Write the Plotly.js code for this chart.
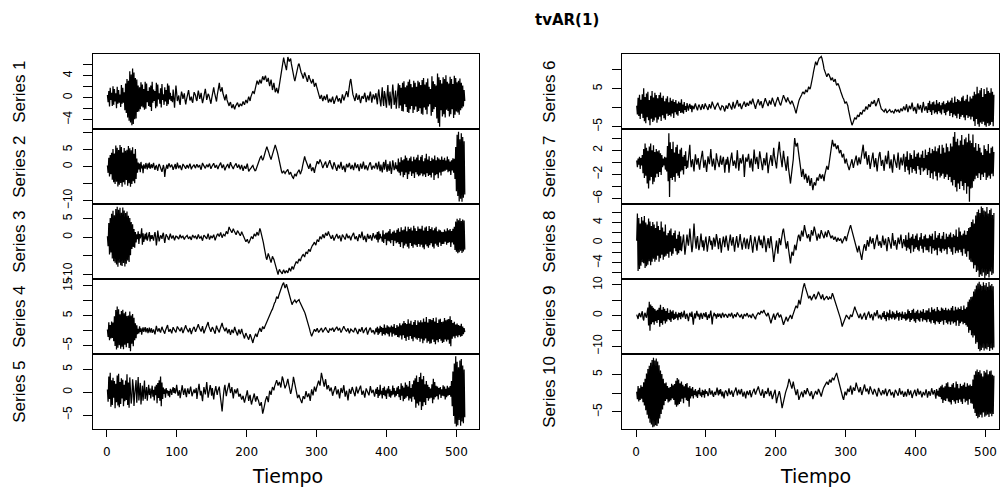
<!DOCTYPE html>
<html>
<head>
<meta charset="utf-8">
<script src="https://cdn.plot.ly/plotly-3.0.1.min.js"></script>
<style>html,body{margin:0;padding:0;background:#fff;}#chart{width:1005px;height:496px;}</style>
</head>
<body>
<div id="chart"></div>
<script>
// ---- data (one per time step 1..512) ----
const mainTitle = "tvAR(1)";
const xTitle = "Tiempo";
const seriesNames = ["Series 1","Series 2","Series 3","Series 4","Series 5","Series 6","Series 7","Series 8","Series 9","Series 10"];
const timeStart = 1;
const timeStep = 1;
const xTickVals = [0,100,200,300,400,500];

const s1 = [
0.5,-0.8,1.2,-1.6,1.8,-0.4,0.9,-1.5,2.1,-1.3,1.6,-0.7,0.8,-1.9,2.0,-1.1,1.4,-0.9,0.6,-1.7,2.3,-1.1,1.8,-0.9,1.0,-2.3,2.6,-2.8,3.4,-3.6,3.1,-4.2,
4.8,-4.5,4.2,-5.0,5.3,-4.8,4.6,-3.9,3.6,-3.8,3.3,-2.6,2.2,-2.5,1.9,-2.1,2.8,-1.6,2.4,-1.8,1.6,-2.2,2.9,-2.0,2.6,-0.8,1.2,-1.5,1.9,-1.7,2.2,-2.4,
2.9,-0.9,1.5,-0.6,1.2,-1.9,2.7,-1.6,2.4,-0.3,0.8,-1.1,1.7,-1.8,2.5,-0.4,0.6,-1.3,1.9,-0.7,1.4,-1.5,2.6,-1.2,2.2,-0.3,0.9,-0.6,0.3,-0.8,1.5,-0.9,
-1.8,0.4,2.2,0.9,-0.6,-0.1,0.4,-0.8,-1.3,0.2,1.1,0.6,-0.2,0.3,0.8,-0.5,-1.2,-0.4,0.3,0.9,1.4,0.5,-0.5,-0.2,0.2,-0.6,-0.9,0.1,1.0,0.7,0.4,-0.3,
-0.6,0.5,1.3,0.6,-0.2,0.3,0.9,-0.2,-1.0,-0.4,0.5,1.0,1.6,0.7,-0.4,0.1,0.7,0.5,0.1,-0.6,-1.1,-0.2,0.8,1.3,1.9,1.0,0.3,-0.3,-0.7,0.4,1.2,1.8,
2.7,1.6,1.1,1.5,1.9,0.9,0.2,-0.3,-0.5,0.2,0.6,-0.4,-0.9,-1.3,-1.5,-1.0,-0.8,-1.4,-1.9,-1.5,-1.2,-1.8,-2.1,-1.6,-1.4,-1.0,-0.9,-1.3,-1.7,-1.4,-1.1,-1.3,
-1.5,-1.1,-0.7,-1.0,-1.3,-0.8,-0.4,-0.7,-1.0,-0.3,0.2,-0.2,-0.6,0.1,0.5,0.9,1.2,0.9,0.8,1.4,1.9,2.6,3.1,2.7,2.4,2.9,3.3,2.8,2.6,3.3,3.9,3.5,
3.2,3.7,4.0,3.4,2.9,3.2,3.6,2.8,2.1,2.7,3.3,2.4,1.4,2.0,2.7,1.9,1.0,1.3,1.8,1.2,0.8,1.6,2.5,3.3,4.2,5.1,5.9,6.8,7.3,6.6,6.1,5.5,
5.0,6.2,7.4,7.0,6.6,6.9,7.1,6.2,5.3,4.6,4.1,3.5,3.0,3.7,4.4,5.1,5.8,6.0,6.2,5.5,4.9,4.6,4.3,3.9,3.5,4.0,4.6,4.2,3.8,3.3,2.9,3.5,
4.1,3.6,3.2,2.8,2.6,3.0,3.4,2.7,2.0,2.4,2.7,2.1,1.6,1.2,0.8,0.3,-0.2,0.2,0.5,-0.1,-0.6,-0.1,0.3,-0.1,-0.4,0.2,0.6,-0.2,-0.9,-0.5,-0.2,-0.6,
-0.8,-0.2,0.2,-0.5,-1.1,-0.7,-0.3,0.1,0.4,-0.2,-0.7,-0.3,-0.1,-0.6,-1.0,-0.1,0.6,0.1,-0.5,-0.1,0.3,0.8,1.2,0.6,0.1,1.2,2.4,3.0,3.4,2.3,1.3,0.6,
0.2,-0.3,-0.6,0.2,0.8,0.1,-0.4,0.0,0.5,-0.4,-1.0,-0.3,0.3,0.1,-0.2,0.4,0.9,0.1,-0.8,-0.2,0.4,0.0,-0.5,0.5,1.1,0.2,-0.9,-0.1,0.6,0.2,-0.3,0.4,
0.8,-0.4,-1.2,0.6,1.5,0.2,-0.7,-1.6,0.4,1.9,-0.5,-1.5,1.2,0.6,-0.9,-1.8,0.7,2.3,-0.3,-1.4,1.1,-0.6,-2.0,0.4,2.4,0.8,-1.3,-0.5,1.3,-2.0,0.2,1.6,
2.6,-1.9,2.3,-1.4,1.8,-2.4,2.7,-2.5,3.0,-1.2,1.9,-1.7,2.2,-2.6,2.9,-2.8,3.3,-2.1,2.5,-1.5,1.9,-2.8,3.1,-2.2,2.7,-1.6,2.0,-2.6,3.1,-2.4,2.8,-1.9,
2.3,-2.9,3.2,-3.1,3.6,-1.8,2.4,-2.2,2.8,-3.0,3.5,-1.6,2.0,-1.2,1.6,-3.3,3.9,-2.6,3.0,-2.1,2.5,-1.7,2.2,-3.8,4.4,-4.6,3.7,-5.3,3.2,-2.3,2.6,-3.4,
3.7,-3.0,3.4,-3.6,4.1,-2.2,2.9,-2.4,2.6,-3.4,3.8,-3.0,3.4,-2.1,2.5,-3.7,4.0,-3.1,3.6,-2.5,2.8,-2.7,3.1,-3.1,3.5,-2.3,2.7,-1.9,2.2,-1.6,1.4,-0.6];

const s2 = [
0.4,-1.8,2.6,-2.9,3.4,-2.2,4.1,-3.8,5.2,-4.6,3.9,-5.1,6.2,-4.4,5.6,-5.8,4.9,-5.3,6.4,-4.8,5.8,-5.9,4.2,-4.6,5.5,-5.2,4.7,-3.9,5.0,-5.6,6.1,-4.9,
5.4,-5.9,4.8,-5.1,5.7,-4.3,3.8,-4.9,5.2,-3.6,2.4,-1.8,1.2,-0.8,0.9,-1.6,1.4,-0.5,0.3,-1.9,0.7,0.2,-0.6,1.1,0.4,-0.8,0.9,-0.3,1.2,-0.6,0.1,0.7,
-0.4,0.5,1.1,-0.2,-0.9,0.1,0.3,-0.5,-1.2,0.2,0.8,0.3,-0.3,-0.9,-1.5,-0.6,0.5,-0.4,-3.0,-1.1,0.2,0.6,-0.6,0.1,1.0,0.4,-0.2,0.3,0.6,-0.1,-0.9,-0.3,
0.3,0.8,-0.7,-0.2,1.2,0.4,-0.5,0.1,0.4,-0.3,-1.0,-0.2,0.8,0.5,0.1,-0.4,-0.6,0.2,0.5,-0.1,-0.3,0.4,0.9,0.1,-0.8,-0.2,0.2,0.6,0.6,-0.1,-0.4,0.3,
0.7,0.2,-0.2,0.3,0.4,-0.4,-0.9,0.2,1.1,0.6,0.3,-0.2,-0.5,0.1,0.6,0.2,-0.1,0.5,0.9,0.1,-0.6,-0.1,0.2,0.7,1.0,0.3,-0.3,0.2,0.5,-0.2,-0.7,0.0,
0.3,0.8,1.2,0.3,-0.4,0.2,0.6,-0.3,-1.1,-0.4,0.2,0.6,0.8,0.1,-0.5,0.5,1.3,0.6,0.1,-0.4,-0.7,0.0,0.4,0.8,1.0,0.2,-0.3,0.2,0.6,-0.2,-0.8,0.0,
0.5,-0.4,-1.2,-0.4,0.2,-0.3,-0.6,0.2,0.9,-0.3,-1.4,-1.0,-0.8,-0.4,-0.2,0.2,0.4,-0.3,-0.9,-1.2,-1.1,-0.4,0.3,0.9,1.6,2.1,2.4,2.9,3.1,2.4,1.9,2.3,
2.8,3.8,4.6,5.4,5.9,5.2,4.8,4.0,3.2,2.5,2.1,2.9,3.6,4.4,5.1,5.9,6.4,5.7,5.2,4.3,3.4,2.2,1.0,0.1,-0.8,-1.4,-1.9,-1.5,-1.2,-1.7,-2.0,-1.6,
-1.4,-1.0,-0.8,-1.6,-2.3,-1.9,-1.6,-2.3,-2.9,-3.2,-3.4,-2.6,-2.1,-2.5,-2.8,-2.0,-1.5,-1.1,-0.9,-1.6,-2.2,-1.5,-1.0,0.2,1.4,2.3,3.0,2.2,1.6,1.0,0.4,-0.2,
-0.6,0.2,0.9,-0.3,-1.3,-0.6,-0.2,-1.0,-1.8,-0.6,0.5,1.1,1.6,1.2,0.8,1.5,2.1,1.6,1.2,0.3,-0.4,0.2,0.7,1.1,1.5,0.5,-0.3,0.3,0.8,1.4,1.9,1.0,
0.4,-0.3,-0.8,0.3,1.3,0.7,0.2,-0.6,-1.2,-0.2,0.6,0.0,-0.5,0.5,1.4,0.2,-0.9,-0.2,0.3,-0.7,-1.6,-0.3,0.8,0.2,-0.2,0.5,1.1,0.1,-0.7,-0.1,0.5,-0.3,
-1.0,0.2,1.2,0.3,-0.4,0.2,0.7,-0.4,-1.3,-0.1,0.9,0.1,-0.6,0.5,1.5,0.3,-0.8,-0.1,0.4,-0.4,-1.1,-0.2,0.6,1.0,1.3,0.1,-0.9,-0.2,0.3,-0.1,-0.5,0.4,
1.1,0.2,-0.8,0.4,1.5,-0.3,-1.3,0.6,-0.2,-1.7,0.4,1.4,-0.9,0.3,2.0,-0.5,-1.5,0.8,-0.4,-1.2,1.6,0.2,-2.1,-0.4,1.9,0.6,-1.0,-0.3,1.3,-0.7,0.4,-1.4,
2.4,-1.8,1.3,-2.6,2.8,-1.5,1.9,-3.1,2.2,-2.4,3.3,-1.7,2.6,-3.6,1.8,-2.2,2.5,-1.4,3.0,-2.7,1.6,-2.0,2.9,-3.3,2.1,-1.6,2.7,-2.3,3.5,-2.8,1.9,-2.5,
2.9,-2.0,3.4,-2.8,1.6,-2.3,2.5,-3.0,3.8,-1.9,2.1,-2.7,3.1,-2.4,1.7,-3.2,2.6,-1.8,2.2,-3.9,3.3,-2.5,1.9,-2.2,2.8,-3.4,2.4,-1.7,2.0,-2.6,3.0,-1.5,
2.0,-1.4,2.6,-1.2,1.8,-0.9,3.0,-1.6,2.2,-1.3,1.5,-2.4,1.9,-1.1,2.5,-1.8,2.3,-3.6,5.8,-7.2,9.4,-8.6,10.3,-10.2,8.1,-9.4,9.8,-10.3,8.7,-9.1,7.5,-8.2];

const s3 = [
0.3,-2.4,3.8,-4.6,5.2,-4.1,6.3,-5.7,7.1,-6.4,5.9,-6.8,7.6,-7.3,8.2,-7.9,7.4,-6.8,7.9,-7.5,6.6,-7.7,8.0,-6.9,7.2,-7.8,6.5,-7.1,6.9,-6.2,5.8,-6.6,
5.2,-4.8,4.1,-3.1,3.5,-2.6,2.2,-2.8,1.4,-1.4,0.8,-0.5,1.6,-1.8,0.9,-0.3,0.5,2.4,-2.0,1.1,-1.2,0.4,0.9,-0.6,1.3,-0.9,-0.2,0.7,1.4,-1.1,0.5,-0.4,
0.6,-0.2,-0.9,0.5,1.4,0.1,-2.2,-0.6,1.8,0.4,-1.1,-0.3,0.5,0.2,-0.4,0.7,1.2,-0.3,-1.5,-0.2,0.8,0.4,0.2,-0.5,-0.6,0.3,1.0,0.2,-0.3,0.1,0.5,-0.2,
-0.8,-0.2,0.4,0.1,0.1,-0.3,-0.5,0.2,0.7,0.1,-0.2,0.2,0.3,-0.2,-0.6,-0.1,0.1,0.4,0.5,0.0,-0.4,-0.1,0.2,-0.3,-0.7,0.1,0.6,0.2,-0.1,0.2,0.3,-0.2,
-0.5,0.2,0.8,0.2,-0.3,0.0,0.2,-0.4,-0.9,-0.1,0.6,0.4,0.1,-0.2,-0.4,0.3,1.0,0.2,-0.6,-0.1,0.3,0.1,-0.2,0.3,0.7,-0.1,-0.8,-0.2,0.4,0.7,0.9,0.4,
0.2,0.8,1.3,0.5,-0.1,0.4,0.8,0.6,0.4,1.0,1.6,1.2,0.9,1.9,2.8,2.3,1.9,1.5,1.2,1.8,2.3,1.8,1.4,1.0,0.7,1.2,1.8,1.5,1.1,0.7,0.4,0.9,
1.5,1.0,0.6,0.1,-0.3,-0.8,-1.2,-0.9,-0.5,-1.1,-1.6,-1.2,-0.8,-0.3,0.2,-0.1,-0.4,0.3,0.9,0.6,0.3,0.9,1.4,0.8,0.5,1.5,2.4,1.8,1.1,0.4,-0.3,-1.4,
-2.5,-3.8,-4.8,-5.5,-6.0,-5.1,-4.3,-4.9,-5.5,-6.2,-6.8,-5.9,-5.1,-5.6,-5.9,-6.6,-7.2,-7.9,-8.4,-9.3,-10.0,-9.1,-8.6,-9.0,-9.3,-9.6,-9.8,-9.1,-8.7,-9.2,-9.6,-9.2,
-8.9,-9.3,-9.5,-8.8,-8.2,-8.7,-9.1,-8.4,-7.8,-8.2,-8.6,-7.9,-7.2,-6.8,-6.5,-6.8,-7.0,-6.3,-5.8,-6.1,-6.4,-5.6,-5.0,-4.8,-4.6,-5.0,-5.3,-4.5,-3.9,-4.2,-4.4,-3.7,
-3.2,-3.6,-3.8,-3.1,-2.5,-2.2,-2.0,-1.6,-1.3,-1.8,-2.1,-1.3,-0.6,-0.9,-1.2,-0.4,0.2,-0.2,-0.5,0.2,0.8,0.3,-0.2,0.5,1.2,0.8,0.4,1.0,1.6,0.9,0.3,-0.1,
-0.4,0.1,0.6,-0.2,-0.9,-0.3,0.2,0.6,0.9,0.2,-0.3,0.1,0.5,-0.3,-1.1,-0.2,0.7,0.4,0.1,-0.3,-0.6,0.2,1.0,0.4,-0.2,0.1,0.4,-0.2,-0.8,0.0,0.6,0.9,
1.2,0.3,-0.5,-0.1,0.3,-0.4,-1.0,-0.1,0.8,0.3,-0.2,0.6,1.5,0.4,-0.7,-0.2,0.4,-0.5,-1.3,-0.2,0.9,0.2,-0.4,0.1,0.6,-0.2,-0.9,0.1,1.1,0.4,-0.3,0.2,
0.7,-0.6,1.4,-1.4,1.6,-0.6,0.9,-0.2,0.2,-1.2,1.9,-1.5,0.8,-0.4,1.2,-2.1,1.3,-0.9,1.6,-1.1,2.2,-1.6,1.0,-0.7,1.5,-2.3,1.8,-0.9,1.2,-1.6,2.0,-1.3,
2.4,-1.8,1.5,-2.6,2.7,-1.3,1.9,-2.9,2.1,-2.2,2.9,-1.7,1.6,-2.5,2.8,-3.0,2.2,-1.5,2.6,-2.3,1.8,-2.8,3.1,-1.9,2.4,-2.1,1.7,-2.6,2.9,-1.8,2.3,-2.5,
2.3,-2.0,3.1,-2.7,1.8,-3.2,2.6,-1.9,2.9,-2.4,1.7,-2.8,3.0,-2.1,2.2,-1.6,2.7,-2.5,1.9,-3.0,2.4,-1.7,2.8,-2.2,1.6,-2.6,2.1,-1.4,1.9,-2.3,1.5,-1.8,
1.4,-1.8,2.1,-1.2,1.6,-2.0,2.4,-1.5,1.9,-1.3,2.2,-2.6,1.7,-1.4,2.3,-1.9,2.8,-3.4,4.2,-3.9,5.0,-4.3,4.6,-4.0,5.1,-3.6,4.4,-4.2,4.8,-3.8,4.5,-3.3];

const s4 = [
0.4,-2.1,2.8,-3.2,1.9,-2.6,3.1,-2.4,2.7,-3.5,4.8,-5.1,6.9,-6.3,8.1,-5.7,7.2,-4.9,5.5,-6.0,6.6,-5.4,7.0,-6.2,5.8,-4.7,6.3,-5.5,4.9,-4.2,5.1,-5.8,
6.4,-6.9,5.1,-4.4,5.6,-5.2,4.3,-3.2,2.5,-2.5,1.8,-1.2,0.6,-0.9,1.5,-0.4,0.8,-1.3,0.3,1.1,-0.4,0.6,1.2,-0.5,0.2,0.9,-0.8,0.4,1.0,-0.6,0.3,0.8,
-0.7,0.1,0.4,-0.5,-1.2,0.3,1.6,0.5,-0.3,0.4,0.8,-0.2,-0.6,0.4,1.3,0.6,0.2,-0.5,-1.0,0.1,0.7,1.4,1.9,0.5,-0.4,0.2,0.5,-0.3,-0.9,0.3,1.2,0.6,
0.3,-0.3,-0.6,0.5,1.4,1.0,0.7,0.2,-0.2,0.5,1.1,0.1,-0.8,-0.1,0.5,1.2,1.8,0.9,0.2,-0.3,-0.5,0.3,0.9,-0.2,-1.1,-0.2,0.6,1.0,1.3,0.4,-0.4,0.2,
0.8,1.6,2.2,1.2,0.5,0.0,-0.3,0.6,1.5,0.2,-0.9,-0.2,0.4,1.2,1.9,2.4,2.9,1.5,0.6,0.1,-0.4,0.5,1.2,0.7,0.3,-0.4,-1.0,0.4,1.7,0.9,0.2,-0.3,
-0.6,0.5,1.4,2.1,2.6,1.5,0.8,0.2,-0.2,0.4,1.0,0.0,-0.9,-0.1,0.5,-0.5,-1.4,-0.4,0.3,-0.3,-0.8,0.3,1.3,0.3,-0.5,-1.1,-1.6,-0.5,0.4,-0.4,-1.1,-0.2,
0.6,-0.5,-1.5,-2.1,-2.6,-1.6,-0.8,-1.4,-1.9,-2.5,-3.0,-2.1,-1.2,-1.8,-2.4,-3.3,-4.1,-3.0,-2.2,-1.5,-1.0,-1.6,-2.1,-1.1,-0.3,0.4,0.9,0.2,-0.4,0.5,1.4,0.9,
0.6,1.3,1.9,2.4,2.8,3.5,4.1,4.7,5.3,5.9,6.4,6.8,7.2,8.1,8.8,9.3,9.6,10.6,11.4,11.0,10.7,11.8,12.6,13.3,14.0,14.7,15.2,15.7,16.1,15.1,14.3,14.9,
15.6,14.7,13.8,12.9,12.1,11.2,10.4,9.5,8.7,9.3,9.8,10.1,10.3,9.8,9.4,9.8,10.1,10.3,10.4,9.7,9.2,8.9,8.6,8.0,7.3,6.8,6.2,5.5,4.8,4.0,3.1,2.3,
1.6,0.6,-0.4,-1.2,-1.9,-1.3,-0.8,-0.1,0.5,0.1,-0.3,0.3,0.8,0.1,-0.6,-0.2,0.2,0.6,0.9,0.2,-0.5,-0.1,0.3,0.7,1.1,0.5,0.0,-0.4,-0.7,0.0,0.6,0.4,
0.2,0.6,1.0,0.3,-0.4,0.2,0.7,1.0,1.3,0.7,0.1,0.5,0.9,0.1,-0.6,-0.1,0.4,1.0,1.5,0.9,0.3,0.0,-0.2,0.3,0.8,-0.1,-0.9,-0.2,0.5,0.3,0.1,-0.2,
-0.5,0.2,0.9,0.6,0.2,-0.5,-1.1,-0.3,0.6,0.1,-0.3,0.5,1.2,0.2,-0.8,-0.2,0.4,0.7,0.9,-0.2,-1.3,-0.5,0.3,0.7,1.0,0.2,-0.6,-0.2,0.2,-0.5,-1.2,-0.2,
0.8,-0.5,1.3,-1.4,0.7,-0.9,1.6,-0.4,1.2,-1.7,0.9,-1.1,2.1,-1.5,1.0,-0.8,1.8,-1.2,1.4,-1.9,1.1,-0.6,1.7,-2.0,1.3,-1.0,2.2,-1.6,0.9,-1.4,1.9,-2.1,
1.4,-2.3,2.5,-1.6,1.8,-2.9,2.4,-1.5,3.2,-2.4,2.6,-3.4,2.2,-2.0,3.8,-3.1,2.4,-1.8,3.3,-2.7,2.0,-3.5,2.9,-2.2,3.6,-2.6,1.9,-3.0,3.4,-2.4,2.8,-3.7,
3.5,-2.7,2.8,-4.2,4.1,-3.3,3.0,-2.6,4.6,-4.0,2.7,-3.5,3.9,-4.4,3.8,-4.2,3.6,-2.9,4.2,-3.8,3.1,-4.5,4.4,-3.2,2.6,-3.9,3.7,-2.8,4.0,-3.4,2.9,-4.1,
3.1,-3.8,4.2,-2.9,3.5,-3.6,3.7,-3.0,3.9,-4.4,4.8,-5.2,3.6,-2.7,2.6,-1.9,3.0,-2.5,2.1,-1.7,2.4,-2.2,1.9,-1.5,1.6,-2.0,2.3,-1.8,1.4,-1.2,0.9,-0.5];

const s5 = [
0.6,-2.1,3.4,-1.5,4.2,-3.2,2.6,-2.8,3.1,-1.2,2.4,-3.5,1.8,-2.2,3.6,-2.9,4.0,-3.3,2.2,-2.6,3.0,-1.4,2.7,-3.1,1.6,-2.0,2.5,-1.7,3.9,-2.8,2.1,-3.4,
3.2,0.8,-2.5,-1.0,2.8,1.2,-3.0,-0.6,1.9,2.6,-2.3,-0.4,3.3,-1.8,0.6,2.0,-2.7,-0.5,1.4,-1.9,0.3,2.5,-1.5,0.6,1.1,-1.9,-0.2,1.6,-0.6,0.8,-1.4,0.4,
1.4,-1.0,0.5,-1.8,1.2,-0.7,1.6,-2.4,2.0,-1.3,2.6,-1.9,3.4,-3.1,2.1,-1.5,1.0,-0.4,0.6,-1.2,0.9,-0.3,0.4,-0.8,0.2,-1.1,0.7,0.3,-0.6,0.5,1.1,-0.2,
0.9,-0.3,0.2,1.6,0.4,-0.8,-0.2,0.4,-1.3,-0.4,0.7,1.5,0.3,-0.6,0.2,0.8,-0.4,-1.1,0.2,0.8,-0.1,-0.4,0.5,1.2,0.2,-0.9,-0.3,0.3,0.6,-0.2,0.1,0.9,
-1.5,-0.2,0.6,1.8,0.4,-0.7,0.3,-0.6,-2.0,-0.3,1.1,0.2,-0.5,0.7,2.2,0.5,-1.2,-0.3,0.4,1.5,0.6,-0.8,0.9,-0.4,-1.6,-0.2,0.5,1.3,0.2,-0.6,0.3,1.0,
1.2,-0.4,-1.3,-2.8,-4.2,-1.6,-0.5,0.8,1.6,0.2,-0.9,0.1,0.7,1.4,2.0,0.8,-0.2,0.5,1.1,-0.3,-1.4,-0.2,0.6,0.1,-0.3,0.4,0.8,-0.2,-1.0,-0.6,-0.4,-1.1,
-1.6,-1.2,-0.8,-1.7,-2.3,-1.6,-1.2,-0.4,0.4,-0.8,-1.9,-1.1,-0.6,-1.8,-2.7,-2.0,-1.5,-0.8,-0.3,-1.3,-2.1,-1.4,-0.9,-1.5,-1.8,-2.5,-3.0,-2.6,-2.2,-3.4,-4.7,-4.1,
-3.6,-2.6,-1.8,-1.2,-0.9,-1.6,-2.2,-0.9,0.3,-0.2,-0.6,0.3,1.1,0.8,0.4,1.2,1.9,2.3,2.6,2.0,1.4,1.9,2.2,1.6,1.0,2.2,3.4,2.9,2.3,1.5,0.8,1.3,
1.6,2.3,2.9,1.9,1.0,0.3,-0.4,0.2,0.8,2.0,3.3,2.4,1.5,0.6,-0.2,-0.8,-1.3,-0.9,-0.6,-1.2,-1.7,-2.1,-2.4,-1.6,-0.9,-1.2,-1.5,-0.6,0.2,-0.5,-1.1,-0.7,
-0.3,-1.1,-1.9,-0.6,0.6,-0.1,-0.7,0.3,1.2,0.6,0.1,0.9,1.6,2.1,2.5,1.9,1.4,2.8,4.2,3.4,2.6,1.9,1.2,2.0,2.8,1.7,0.6,1.1,1.5,0.8,0.2,0.6,
1.0,0.1,-0.8,-0.2,0.4,0.9,1.3,0.4,-0.5,0.1,0.6,-0.4,-1.4,-0.2,0.9,0.3,-0.2,0.7,1.5,0.2,-1.0,-0.3,0.3,-0.8,-1.8,-0.5,0.7,0.1,-0.4,0.4,1.1,0.6,
0.2,-0.4,-0.9,0.2,1.2,0.4,-0.3,0.2,0.6,1.0,1.4,0.4,-0.6,-0.1,0.3,-0.5,-1.2,-0.2,0.8,0.4,0.1,-0.3,-0.7,0.3,1.3,0.5,-0.2,0.2,0.5,-0.3,-1.0,-0.1,
0.7,-0.4,1.1,-1.3,0.5,-0.8,1.6,-0.5,0.3,-1.4,0.9,-0.6,1.2,-0.9,0.4,-1.5,0.8,-0.3,1.3,-1.0,0.6,-1.2,0.2,-0.7,1.4,-0.5,0.9,-1.1,0.3,-0.8,1.0,-0.4,
1.3,-1.1,0.6,-1.7,1.9,-0.8,1.4,-2.0,1.0,-1.5,2.1,-1.2,1.6,-0.9,1.2,-1.8,2.4,-1.4,0.9,-2.1,1.7,-1.0,2.5,-1.6,3.0,-3.4,3.6,-2.5,2.2,-2.9,3.3,-2.1,
4.2,-3.9,2.8,-3.1,3.5,-2.2,1.7,-2.8,2.4,-1.3,1.6,-1.9,1.1,-1.4,0.8,-1.2,1.7,-2.4,2.9,-1.6,2.2,-1.1,1.4,-0.9,1.2,-1.6,0.9,-0.5,1.1,-1.3,0.6,-0.8,
1.5,-0.9,1.2,-1.6,0.7,-1.1,1.4,-0.8,1.0,-0.6,1.3,-1.0,2.4,-3.1,4.5,-5.2,6.2,-6.9,7.8,-7.5,6.6,-7.2,5.4,-6.1,6.9,-7.3,7.2,-6.4,5.8,-6.8,4.9,-5.5];

const s6 = [
0.5,-1.8,2.6,-2.2,3.4,-3.0,2.1,-1.6,3.5,-2.7,5.1,-3.6,2.8,-4.1,3.7,-2.5,4.2,-3.3,2.0,-4.6,3.1,-2.9,4.4,-3.8,2.7,-3.4,3.9,-2.6,3.3,-4.0,2.5,-3.1,
3.3,-2.4,4.0,-3.5,2.6,-2.0,3.1,-2.8,1.7,-3.2,2.4,-1.6,3.0,-2.2,1.4,-1.9,2.6,-2.3,1.8,-1.5,2.2,-2.7,1.5,-1.2,2.0,-1.8,1.1,-2.1,1.6,-0.9,1.3,-1.4,
2.2,-1.3,0.8,-1.6,1.5,-0.6,0.4,-1.1,1.2,0.2,-0.8,0.5,1.0,-0.3,0.6,-1.2,0.5,0.1,-0.4,0.6,1.1,0.3,-0.3,-0.7,0.2,0.8,0.4,-0.2,-0.6,0.3,0.9,0.2,
-0.4,0.3,1.1,0.5,0.3,-0.2,-0.6,0.2,0.9,0.3,-0.2,0.6,1.6,1.0,0.4,-0.1,-0.5,0.2,0.7,1.1,1.3,0.6,0.1,-0.3,-0.7,0.0,0.5,0.4,0.2,-0.5,-1.0,-0.2,
0.6,0.1,-0.3,0.5,1.2,0.8,0.4,-0.2,-0.5,0.6,1.5,0.5,-0.2,0.3,0.8,1.5,2.0,1.0,0.3,0.8,1.1,0.2,-0.4,0.3,0.9,1.3,1.6,0.8,0.2,0.9,1.3,0.8,
0.5,1.2,1.8,1.3,0.9,1.7,2.4,1.6,1.1,0.4,-0.3,0.6,1.4,1.9,2.2,1.3,0.6,1.3,1.7,0.8,-0.1,0.5,1.0,1.8,2.5,1.8,1.2,0.7,0.4,1.2,1.9,1.3,
0.8,1.8,2.6,2.0,1.5,0.8,0.3,1.2,1.9,2.5,2.8,2.0,1.2,0.9,0.6,1.4,2.1,2.8,3.3,2.8,2.4,1.8,1.4,2.1,2.7,2.1,1.6,1.2,0.9,1.4,1.8,1.4,
1.0,0.4,-0.2,-0.9,-1.5,-0.6,0.4,1.1,1.8,2.3,2.6,3.0,3.4,3.9,4.2,3.8,3.6,4.2,4.7,4.3,4.1,4.8,5.5,5.1,4.9,5.6,6.3,7.3,8.4,9.5,10.6,11.4,
12.1,11.6,11.2,12.0,12.8,13.0,13.1,13.3,13.5,13.0,12.4,11.3,10.2,9.7,9.3,8.6,8.1,8.6,9.0,8.7,8.4,7.8,7.2,7.6,7.9,7.3,6.8,7.2,7.5,6.6,5.9,6.1,
6.4,5.9,5.5,4.8,4.2,3.5,2.9,2.6,2.3,1.7,1.1,1.4,1.6,1.0,0.5,-0.6,-1.8,-2.5,-3.2,-3.9,-4.6,-4.2,-3.8,-3.2,-2.6,-2.9,-3.1,-2.5,-1.9,-2.2,-2.4,-1.8,
-1.2,-1.5,-1.8,-1.2,-0.6,-0.8,-1.0,-0.3,0.3,-0.1,-0.5,0.2,0.9,0.5,0.2,0.9,1.6,1.3,1.0,1.5,2.0,1.2,0.4,0.8,1.3,1.9,2.5,1.6,0.8,0.2,-0.4,-0.5,
-0.6,-0.9,-1.1,-0.7,-0.3,-0.8,-1.4,-1.1,-0.8,-0.6,-0.5,-0.9,-1.2,-1.0,-0.9,-1.2,-1.5,-0.9,-0.4,-0.7,-1.0,-0.8,-0.6,-1.0,-1.3,-0.7,-0.2,-0.6,-0.9,-0.3,0.3,-0.2,
-0.7,0.1,0.9,-0.2,-1.2,-0.4,0.5,0.1,-0.4,0.5,1.3,0.2,-0.9,-0.3,0.2,-0.7,-1.6,-0.2,1.1,0.3,-0.5,0.1,0.7,-0.3,-1.3,0.1,1.5,0.3,-0.8,-0.2,0.4,-0.5,
-1.4,1.2,-0.6,1.8,-1.1,0.9,-1.9,1.4,-0.7,1.6,-1.5,0.8,-1.2,2.0,-1.7,1.1,-0.9,1.5,-1.3,0.6,-1.8,1.3,-0.5,1.7,-1.4,0.9,-2.0,1.2,-1.1,1.9,-0.8,1.4,
-2.2,1.9,-1.4,2.6,-2.5,1.3,-1.8,2.9,-2.1,1.5,-2.8,2.3,-1.6,2.0,-3.0,1.7,-2.4,2.7,-1.9,3.1,-2.6,1.8,-3.3,2.2,-2.0,3.4,-2.7,1.6,-2.3,2.9,-3.1,2.4,
-2.4,3.1,-3.6,4.2,-4.8,3.5,-3.0,5.5,-4.4,3.8,-5.0,4.6,-3.9,5.2,-4.3,2.8,-3.7,4.9,-4.6,3.6,-5.0,5.3,-4.1,4.4,-4.8,3.9,-4.5,5.1,-3.8,4.2,-4.9,3.4];

const s7 = [
0.3,-0.8,0.6,-0.4,0.9,-1.1,0.7,-0.5,1.2,-1.8,2.2,-2.6,3.1,-2.2,2.4,-3.5,1.9,-4.3,2.6,-3.0,3.1,-2.4,2.0,-3.6,2.8,-3.2,1.7,-2.5,2.2,-1.9,1.8,-2.4,
2.0,-1.6,1.5,-2.1,1.2,-0.8,0.6,-0.5,0.9,-1.2,0.8,-1.5,2.7,-3.1,4.8,-5.7,3.3,-2.6,2.2,-2.9,3.4,-2.4,1.6,-3.2,2.5,-1.8,2.9,-2.2,1.4,-2.6,2.1,-1.5,
2.4,-1.3,0.9,-2.0,1.2,-0.6,1.8,-1.1,0.3,-0.9,0.6,1.4,2.9,0.4,-0.8,0.1,0.5,-0.6,-1.5,0.2,1.3,0.4,-0.4,0.3,0.7,-0.5,-1.2,-0.2,0.8,1.6,1.9,0.6,
-0.9,-0.3,0.4,-0.5,-1.6,-0.4,1.0,0.3,-0.3,0.8,2.2,0.7,-0.7,-0.1,0.6,-0.4,-1.3,-0.3,1.5,0.6,0.2,-0.4,-0.8,0.3,1.1,-0.2,-0.4,0.5,0.9,-0.3,-1.7,-0.4,
0.5,-0.4,0.9,0.2,-1.7,-0.5,0.5,1.1,1.6,0.4,-0.6,-0.1,0.3,-0.4,-1.0,0.6,2.0,0.3,-1.4,-0.3,0.7,0.1,-0.2,0.6,1.3,0.0,-2.4,-0.7,0.8,0.4,0.1,0.7,
1.4,0.2,-0.9,0.1,0.6,-0.6,-1.5,0.4,2.1,0.8,-0.3,0.4,0.9,-0.2,-1.1,0.5,1.8,1.0,0.4,-0.6,-1.3,-0.2,0.7,0.1,-0.5,0.6,1.6,-0.3,-1.8,-0.6,0.2,0.8,
1.2,0.2,-0.6,1.0,2.4,1.1,0.3,-0.5,-1.0,0.4,1.5,2.6,3.4,1.8,0.6,-0.3,-0.8,0.6,1.9,0.8,0.2,-0.7,-1.4,-0.1,1.0,-0.8,-2.2,-3.0,-3.5,-2.4,-1.6,-0.5,
0.5,2.4,4.0,3.2,2.6,2.9,3.2,2.1,1.4,0.6,-0.3,-1.4,-2.4,-1.6,-1.1,-2.0,-2.8,-2.2,-1.9,-2.7,-3.4,-2.6,-2.2,-3.1,-3.9,-3.1,-2.6,-3.7,-4.6,-3.9,-3.3,-3.6,
-3.8,-3.0,-2.5,-2.9,-3.0,-2.3,-1.9,-2.4,-2.7,-2.2,-2.0,-2.6,-3.1,-2.1,-1.4,-0.9,-0.6,-1.0,-1.2,-0.4,0.4,1.3,2.1,3.0,3.7,3.1,2.6,2.9,3.1,2.5,2.2,2.6,
2.8,2.1,1.5,1.8,2.0,1.3,0.8,1.2,1.4,0.5,-0.2,0.3,0.6,-0.1,-0.7,-1.1,-1.3,-0.8,-0.4,0.2,0.5,-0.3,-0.9,-0.3,0.2,0.7,1.1,0.2,-0.5,0.2,0.8,0.1,
-0.3,0.6,1.5,2.3,2.9,1.6,0.6,1.3,1.8,0.6,-0.4,0.5,1.2,-0.1,-1.1,-0.3,0.3,1.0,1.6,0.3,-0.8,0.1,0.7,-0.5,-1.5,-0.2,0.9,1.4,1.7,0.4,-0.6,0.1,
0.4,-0.6,-1.4,0.0,1.1,0.3,-0.3,0.8,1.9,0.3,-1.0,-0.2,0.5,-0.8,-1.7,-0.1,1.3,0.6,0.2,-0.4,-0.9,0.5,1.6,0.1,-1.2,-0.1,0.8,0.1,-0.5,0.5,1.4,-0.2,
-1.6,0.9,-0.7,1.8,-1.3,0.4,-2.0,1.5,-0.8,1.2,-1.7,0.6,-1.1,2.0,-1.4,0.9,-1.9,1.4,-0.6,1.6,-1.2,0.8,-2.1,1.3,-0.9,1.9,-1.5,0.7,-1.3,2.1,-1.0,1.2,
-2.1,1.7,-1.3,2.4,-2.6,1.5,-1.8,2.2,-2.8,1.9,-1.5,2.6,-2.3,1.8,-3.0,2.3,-1.7,2.8,-2.5,1.4,-2.2,2.9,-1.9,2.4,-2.7,1.6,-2.4,3.1,-2.0,2.5,-2.9,1.8,
-2.4,3.1,-3.3,2.6,-3.8,4.2,-2.9,5.0,-4.1,3.4,-4.8,3.9,-3.5,2.8,-4.4,3.6,-3.1,4.5,-3.9,2.9,-4.6,3.8,-3.4,4.1,-5.2,3.3,-4.0,4.7,-6.5,3.6,-4.3,3.2,
-4.2,4.6,-3.1,2.5,-2.8,3.2,-2.2,1.9,-2.6,3.0,-1.8,2.4,-2.9,1.6,-2.0,1.2,-2.4,2.8,-1.7,2.2,-2.9,1.9,-2.5,3.0,-2.2,1.5,-2.7,2.4,-1.9,2.6,-2.3,1.7];

const s8 = [
0.4,5.8,-5.6,4.9,-5.2,3.8,-4.6,5.1,-3.9,4.4,-4.1,5.3,-5.0,4.0,-4.7,3.6,-4.4,4.8,-3.7,4.2,-4.5,3.3,-3.8,4.1,-3.2,3.6,-3.8,2.9,-3.4,4.2,-2.6,3.3,
-3.8,2.5,-3.1,4.2,-2.4,3.0,-3.4,2.2,-2.8,3.6,-2.6,1.5,-2.2,1.9,-3.0,2.4,-1.8,2.8,-2.6,1.5,-2.2,1.9,-1.1,2.4,-1.7,0.8,-2.4,1.6,-2.1,2.2,-1.5,1.3,
-1.7,-0.6,0.8,1.6,-0.4,-2.4,-1.1,0.6,1.6,0.2,-0.6,0.9,2.8,1.2,-0.3,-1.9,-0.8,0.7,3.8,1.4,-0.2,-1.2,0.7,1.3,-0.4,-1.5,-0.7,0.6,1.8,0.3,-0.9,0.5,
-1.6,-0.5,0.7,1.2,-0.3,-1.8,-0.6,0.8,1.3,0.4,-0.5,0.4,-1.4,-0.4,1.0,0.6,-0.8,0.3,1.7,0.9,-0.3,-1.3,0.2,0.9,-0.4,-2.0,-0.6,0.5,1.2,0.2,-0.9,0.6,
1.4,0.3,-0.7,-1.6,-0.2,0.8,1.6,0.2,-0.6,0.4,1.1,-0.4,-1.8,-0.5,0.7,1.3,0.1,-1.0,-0.3,0.9,1.7,0.4,-0.8,-1.4,-0.2,0.6,1.0,-0.3,-1.2,0.2,0.8,-0.1,
-1.3,-0.4,0.9,1.5,0.3,-0.8,-2.0,-0.6,0.5,1.2,0.4,-0.7,-1.6,-0.1,0.8,1.4,0.2,-0.5,0.6,-0.3,-1.1,0.2,1.4,0.7,-0.4,-1.9,-0.8,0.4,0.9,-0.2,-1.1,0.6,
1.3,0.1,-0.8,-2.2,-3.8,-2.4,-1.5,-0.4,0.4,-0.8,-2.2,-0.5,0.9,0.2,-0.5,0.6,1.9,2.4,2.8,1.5,0.6,-0.4,-1.2,-0.3,0.3,-1.1,-2.4,-3.2,-4.1,-2.9,-1.8,-2.2,
-2.6,-1.5,-0.4,-0.9,-1.5,-0.3,0.8,1.3,1.6,0.9,0.3,1.4,2.4,1.8,1.2,2.4,3.5,2.7,2.0,1.4,0.9,1.3,1.7,0.9,0.2,1.3,2.5,1.9,1.4,2.3,3.2,2.6,
2.1,1.2,0.4,1.1,1.8,1.3,0.8,1.7,2.5,2.0,1.6,1.2,0.9,1.6,2.2,1.6,1.1,1.9,2.5,2.1,1.7,1.3,0.9,1.2,1.4,1.0,0.6,0.9,1.2,0.7,0.2,0.6,
1.0,0.7,0.4,0.6,0.8,0.3,-0.1,0.3,0.6,1.0,1.3,0.8,0.3,1.1,1.8,2.2,2.6,3.1,3.5,2.9,2.4,1.7,1.1,0.7,0.4,-0.2,-0.8,-1.4,-1.9,-1.2,-0.6,-1.5,
-2.4,-2.9,-3.4,-2.3,-1.2,-0.7,-0.3,-1.0,-1.6,-0.5,0.5,-0.2,-0.8,0.3,1.2,0.4,-0.2,0.4,0.9,-0.2,-1.3,-0.4,0.4,1.0,1.6,0.5,-0.6,-0.1,0.3,-0.4,-1.0,0.2,
1.4,0.4,-0.5,0.2,0.8,-0.5,-1.7,-0.3,1.1,0.6,0.2,-0.5,-1.2,0.4,1.9,0.6,-0.6,-0.1,0.5,-0.5,-1.4,-0.2,1.0,0.3,-0.3,0.7,1.6,0.2,-1.1,-0.2,0.7,-0.1,
-0.8,1.5,-1.6,0.6,-1.0,2.0,-1.3,0.9,-2.1,1.2,-0.5,1.7,-1.8,0.8,-1.2,1.4,-0.9,1.8,-1.4,0.5,-1.7,1.1,-0.6,1.9,-1.2,0.7,-2.0,1.3,-0.8,1.6,-1.5,0.9,
-1.5,0.9,-1.9,1.6,-0.7,1.3,-2.2,1.8,-1.1,0.6,-1.6,2.3,-1.4,1.0,-2.5,1.5,-1.0,1.9,-1.7,0.8,-2.0,1.4,-1.2,2.1,-1.6,0.7,-1.3,1.8,-2.3,1.2,-0.9,1.6,
-1.2,2.0,-1.8,1.1,-2.4,1.7,-0.9,1.4,-2.1,2.6,-1.6,1.2,-2.0,3.0,-1.4,2.2,-1.9,1.5,-2.6,1.8,-1.2,2.4,-2.2,1.6,-2.8,2.3,-1.7,2.9,-3.4,3.1,-3.8,4.1,
-3.9,4.6,-5.1,3.8,-4.5,5.4,-5.8,6.1,-5.5,6.6,-6.8,5.9,-6.3,7.2,-6.6,6.9,-5.9,6.4,-7.0,6.2,-6.5,7.1,-6.2,5.8,-6.9,6.5,-5.7,6.8,-6.4,5.5,-6.1,5.9];

const s9 = [
0.3,-0.6,-1.1,0.4,0.8,-0.2,-0.5,0.7,1.4,-0.8,-1.6,0.3,0.9,-0.2,-0.7,1.1,2.6,-3.2,4.5,-4.9,3.6,-2.8,3.1,-2.2,2.5,-3.0,2.1,-1.8,1.6,-2.4,1.9,-1.4,
2.5,-3.6,3.5,-2.4,1.9,-3.0,2.8,-1.7,2.2,-2.6,1.5,-1.9,2.4,-1.2,0.8,-1.5,1.9,-2.1,1.3,-0.9,1.7,-1.4,0.6,-1.1,1.2,-0.7,0.4,-1.5,1.0,-0.5,0.8,-1.2,
1.2,0.3,-0.6,0.5,1.6,-0.2,-1.1,0.4,0.5,-0.6,-1.8,-0.3,0.9,0.2,-0.4,1.3,-0.3,-3.0,-0.6,0.7,-0.9,0.4,1.5,0.2,-0.3,0.6,-1.3,-0.2,0.9,-0.2,-1.1,0.3,
0.8,0.1,-0.5,1.1,0.2,-1.4,-0.3,0.4,-0.8,0.6,1.6,-0.4,-2.9,-0.5,0.3,0.9,-0.2,0.5,-1.0,0.1,0.7,-0.4,0.2,0.6,-0.3,-0.8,0.4,0.9,0.1,-0.6,0.2,0.4,
0.2,-0.3,-0.7,0.1,0.6,0.2,-0.3,0.4,0.9,-0.2,-0.9,-0.1,0.4,0.0,-0.5,0.4,1.0,0.5,0.1,-0.3,-0.6,0.1,0.3,-0.5,-1.1,-0.2,0.5,0.1,-0.2,0.4,0.8,0.1,
-0.4,-0.1,0.2,-0.4,-0.8,0.1,0.6,0.1,-0.3,-0.8,-1.2,-0.2,0.4,0.8,1.0,0.6,0.3,0.9,1.5,1.1,0.8,1.4,1.8,1.1,0.6,0.2,-0.2,0.4,0.9,0.1,-0.7,-1.6,
-2.5,-1.6,-0.9,-0.1,0.6,-0.5,-1.4,-0.4,0.4,0.6,0.8,0.1,-0.6,-0.1,0.3,-0.4,-1.0,-2.1,-3.0,-2.2,-1.5,-0.9,-0.4,-1.2,-1.9,-1.3,-0.7,-0.2,0.2,-0.5,-1.1,-0.1,
0.8,1.3,1.9,2.6,3.2,2.8,2.4,3.8,5.1,4.3,3.6,5.2,6.8,7.9,8.9,9.8,10.5,9.4,8.4,7.8,7.2,6.4,5.6,6.0,6.4,5.7,5.0,5.6,6.1,6.6,7.0,6.1,
5.3,5.8,6.2,7.0,7.8,7.2,6.6,6.0,5.4,6.2,6.9,5.9,5.0,5.4,5.8,6.1,6.3,5.7,5.2,5.6,6.0,5.7,5.5,6.4,7.3,6.6,5.9,5.5,5.1,4.4,3.6,2.6,
1.7,0.9,0.2,-0.6,-1.4,-2.5,-3.6,-2.8,-2.1,-1.3,-0.5,-0.1,0.2,-0.2,-0.6,-0.9,-1.2,-0.4,0.3,-0.1,-0.4,0.4,1.1,2.0,2.9,2.1,1.4,0.8,0.3,-0.3,-0.8,-0.1,
0.6,-0.3,-1.2,-0.7,-0.3,0.3,0.9,-0.3,-1.4,-0.5,0.4,0.9,1.3,0.2,-0.8,-0.1,0.5,-0.5,-1.6,-0.3,1.0,0.4,-0.2,0.8,1.8,0.4,-0.9,-0.3,0.3,-0.5,-1.3,-0.2,
0.9,-0.5,1.5,-1.1,0.2,-1.8,1.2,-0.4,0.7,-1.5,1.9,-0.7,0.4,-1.2,1.4,-0.6,1.0,-1.3,0.5,-0.9,1.6,-0.4,0.8,-1.7,1.1,-0.3,0.6,-1.4,1.3,-0.8,0.3,-1.0,
1.1,-1.7,0.6,-1.3,2.0,-0.9,1.5,-2.1,0.8,-1.4,1.8,-1.0,2.2,-1.8,0.9,-2.3,1.4,-1.1,1.9,-1.6,0.7,-2.0,1.6,-0.8,1.2,-1.9,2.1,-1.3,0.9,-1.5,1.7,-2.2,
1.6,-1.2,2.4,-2.0,1.1,-2.6,2.7,-1.5,1.9,-2.4,2.2,-2.9,1.4,-1.8,2.8,-2.2,1.9,-2.7,1.5,-2.1,2.6,-1.7,2.3,-3.0,1.8,-1.4,2.5,-2.3,1.7,-2.8,2.2,-1.9,
1.7,-3.0,2.5,-1.9,3.1,-2.6,1.6,-2.2,2.9,-3.3,2.0,-1.6,2.6,-3.4,2.1,-2.5,3.0,-2.0,1.8,-2.8,3.3,-2.4,2.2,-3.1,2.7,-3.6,4.5,-5.6,5.2,-4.8,6.0,-6.4,
6.2,-7.1,7.8,-6.5,8.6,-9.2,9.8,-8.7,10.4,-10.9,11.0,-11.6,10.1,-11.2,9.6,-10.5,10.8,-11.4,9.9,-10.7,10.6,-11.0,9.4,-10.2,10.9,-11.5,9.8,-10.6,10.3,-11.1,9.5,-10.4];

const s10 = [
0.4,-1.6,1.9,-2.2,1.3,-1.8,2.1,-1.5,1.7,-2.4,2.9,-3.3,3.8,-4.6,5.2,-5.8,6.4,-6.8,7.3,-7.9,8.1,-8.4,8.8,-9.1,9.4,-8.9,8.7,-8.6,9.2,-8.8,8.4,-8.1,
7.4,-6.8,6.0,-5.6,5.1,-4.4,3.8,-3.2,2.6,-2.1,2.8,-1.6,1.9,-2.5,1.4,-2.2,1.6,-1.9,2.5,-1.4,2.1,-1.8,2.4,-3.1,3.3,-3.6,4.0,-3.2,3.6,-2.9,2.6,-2.3,
3.1,-1.5,2.2,-2.7,1.8,-1.2,2.4,-1.9,2.7,-2.1,1.5,-3.6,1.9,-1.4,1.2,-0.8,1.6,-1.4,0.7,-0.5,1.1,-0.9,0.5,-1.3,0.8,-0.3,1.4,-0.7,0.2,-1.1,0.9,-0.5,
0.6,-1.2,1.0,-0.2,0.5,0.1,-0.8,-0.3,1.3,0.4,-0.4,0.2,0.7,-0.6,-1.0,0.1,0.3,-0.5,0.3,1.5,0.2,-0.6,0.9,-0.3,1.1,0.2,-0.9,0.4,-0.4,-1.4,0.1,0.6,
0.5,-0.5,-0.8,0.3,1.3,0.1,-0.4,0.2,0.7,-0.3,-1.0,0.0,0.3,0.9,1.5,0.2,-0.6,0.3,0.9,0.1,-0.3,0.5,1.1,-0.1,-0.9,-0.2,0.4,-0.6,-1.4,0.0,0.6,-0.1,
-0.5,0.2,0.8,-0.4,-1.1,-0.2,0.3,0.8,1.2,0.2,-0.4,0.3,0.6,1.2,1.8,0.6,0.2,-0.3,-0.7,0.2,1.0,-0.2,-1.3,-0.3,0.5,0.1,-0.2,0.6,1.4,0.2,-0.8,0.0,
0.6,-0.5,-1.6,-0.9,-0.4,0.3,0.9,-0.8,-2.7,-1.6,-0.8,-0.1,0.5,-0.3,-1.2,-2.6,-4.0,-3.0,-2.1,-1.3,-0.6,0.2,0.8,1.3,1.9,2.9,3.8,3.2,2.6,1.9,1.2,2.1,
3.1,1.9,0.7,0.1,-0.5,0.2,1.0,-0.4,-1.8,-1.2,-0.6,-0.1,0.4,-0.3,-1.1,-0.2,0.8,0.3,-0.3,0.5,1.3,0.7,0.2,-0.3,-0.8,-0.1,0.5,-0.5,-1.6,-0.9,-0.2,0.2,
0.6,0.1,-0.4,0.3,1.1,0.7,0.3,-0.3,-0.9,-0.1,0.8,1.2,1.6,2.0,2.4,2.7,3.0,2.6,2.2,2.9,3.6,3.2,2.8,3.5,4.1,3.8,3.4,4.0,4.5,5.0,5.4,4.6,
3.8,2.9,2.1,1.3,0.6,-0.1,-0.8,-1.3,-1.8,-0.7,0.4,-0.1,-0.6,0.3,1.2,0.7,0.3,1.2,2.0,0.8,-0.4,0.6,1.5,1.1,0.6,1.7,2.8,2.0,1.1,0.6,0.2,0.9,
1.6,0.5,-0.5,0.2,0.9,1.6,2.3,1.3,0.4,0.8,1.2,0.4,-0.3,0.8,1.8,1.2,0.6,0.1,-0.4,0.4,1.1,0.7,0.3,-0.3,-0.9,0.2,1.4,0.8,0.2,-0.2,-0.6,0.1,
0.8,0.2,-0.3,0.5,1.2,0.2,-0.8,-0.1,0.5,0.8,1.0,0.2,-0.6,-0.1,0.3,-0.4,-1.2,-0.1,0.9,0.5,0.1,-0.3,-0.7,0.3,1.3,0.4,-0.4,0.1,0.6,-0.2,-1.0,-0.3,
0.4,-0.3,-0.9,0.1,1.1,0.3,-0.5,0.1,0.7,-0.3,-1.3,-0.5,0.2,0.6,0.9,-0.1,-0.8,0.2,1.2,0.4,-0.4,0.1,0.6,-0.3,-1.1,-0.4,0.3,-0.2,-0.6,0.2,1.0,0.1,
-1.2,-0.3,0.5,0.0,-0.7,0.3,1.3,0.4,-0.4,0.2,0.8,-0.4,-1.5,1.1,-0.6,0.6,-0.9,1.4,-1.0,1.8,-1.6,2.2,-2.6,1.5,-1.9,1.8,-2.1,2.6,-1.4,2.9,-2.2,1.7,
-2.4,1.6,-3.0,2.3,-1.8,2.7,-2.2,1.5,-2.8,3.1,-1.9,2.4,-2.6,1.3,-1.7,2.5,-2.3,1.9,-2.9,2.2,-1.5,2.8,-2.4,1.7,-2.0,2.6,-3.1,2.0,-1.6,2.3,-2.7,1.9,
-2.8,3.6,-4.2,4.9,-5.3,5.8,-6.1,6.3,-6.7,5.6,-6.4,6.1,-5.8,5.2,-6.5,4.4,-5.2,5.9,-6.3,5.5,-6.0,6.2,-5.7,5.0,-6.4,5.8,-5.5,6.0,-6.2,4.9,-5.6,4.6];

const seriesValues = [s1,s2,s3,s4,s5,s6,s7,s8,s9,s10];

// y-axis tick marks and which of them carry a label (as in the reference)
const yTickVals = [
  [-4,-2,0,2,4,6], [-10,-5,0,5,10], [-10,-5,0,5], [-5,0,5,10,15], [-5,0,5],
  [-5,0,5,10], [-6,-4,-2,0,2,4], [-6,-4,-2,0,2,4,6], [-10,-5,0,5,10], [-5,0,5]
];
const yTickLabels = [
  ["−4","","0","","4",""], ["−10","","0","5",""], ["−10","","0","5"], ["−5","","5","","15"], ["−5","0","5"],
  ["−5","","5",""], ["−6","","−2","","2",""], ["","−4","","0","","4",""], ["−10","","0","","10"], ["−5","","5"]
];
const yRanges = [
  [-5.75,7.9], [-11.06,11.0], [-11.26,8.85], [-7.9,17.2], [-8.1,8.23],
  [-5.7,14.05], [-6.92,5.44], [-7.27,7.63], [-12.6,11.8], [-9.65,10.35]
];

// ---- layout geometry (pixels) ----
const W = 1005, H = 496;
const panelTops = [54.3,129.3,204.3,279.3,354.3,429.3];
const colX = [[93,479],[622.3,999]];
const colXRange = [[-19.6,532.3],[-19.6,519.3]];
const yTitleX = [20, 550];
const xTitleX = [287, 815];

const traces = [];
const layout = {
  width: W, height: H,
  margin: {l:0,r:0,t:0,b:0},
  paper_bgcolor: "#fff", plot_bgcolor: "#fff",
  showlegend: false,
  font: {family: "Liberation Sans, Arial, sans-serif", color: "#000"},
  annotations: []
};

for (let i = 0; i < 10; i++) {
  const col = i < 5 ? 0 : 1;
  const row = i % 5;
  const n = i + 1;
  const sfx = n === 1 ? "" : String(n);
  traces.push({
    type: "scatter", mode: "lines",
    x0: timeStart, dx: timeStep,
    y: seriesValues[i],
    xaxis: "x" + sfx, yaxis: "y" + sfx,
    line: {color: "#000", width: 1.25},
    hoverinfo: "skip"
  });
  const isBottom = row === 4;
  layout["xaxis" + sfx] = {
    domain: [colX[col][0]/W, colX[col][1]/W],
    range: colXRange[col],
    anchor: "y" + sfx,
    showgrid: false, zeroline: false,
    showline: true, mirror: true, linecolor: "#000", linewidth: 1,
    ticks: isBottom ? "outside" : "",
    ticklen: 7, tickwidth: 1, tickcolor: "#000",
    tickvals: xTickVals,
    showticklabels: isBottom,
    tickfont: {family: "DejaVu Sans", size: 12, color: "#000"},
    ticklabelstandoff: 4
  };
  layout["yaxis" + sfx] = {
    domain: [1 - panelTops[row+1]/H, 1 - panelTops[row]/H],
    range: yRanges[i],
    anchor: "x" + sfx,
    showgrid: false, zeroline: false,
    showline: true, mirror: true, linecolor: "#000", linewidth: 1,
    ticks: "outside", ticklen: 9, tickwidth: 1, tickcolor: "#000",
    tickvals: yTickVals[i], ticktext: yTickLabels[i],
    tickangle: -90,
    tickfont: {family: "Liberation Sans", size: 12, color: "#000"},
    ticklabelstandoff: 6
  };
  layout.annotations.push({
    xref: "paper", yref: "paper",
    x: yTitleX[col]/W, y: 1 - (panelTops[row] + panelTops[row+1])/2/H,
    text: seriesNames[i], textangle: -90, showarrow: false,
    xanchor: "center", yanchor: "middle",
    font: {family: "Liberation Sans", size: 17, color: "#000"}
  });
}
for (let c = 0; c < 2; c++) {
  layout.annotations.push({
    xref: "paper", yref: "paper",
    x: xTitleX[c]/W, y: 1 - 476/H,
    text: xTitle, showarrow: false, xanchor: "center", yanchor: "middle",
    font: {family: "DejaVu Sans", size: 19, color: "#000"}
  });
}
layout.annotations.push({
  xref: "paper", yref: "paper",
  x: 567/W, y: 1 - 20/H,
  text: "<b>" + mainTitle + "</b>", showarrow: false, xanchor: "center", yanchor: "middle",
  font: {family: "DejaVu Sans", size: 15, color: "#000"}
});

Plotly.newPlot("chart", traces, layout, {staticPlot: true, displayModeBar: false});
</script>
</body>
</html>
